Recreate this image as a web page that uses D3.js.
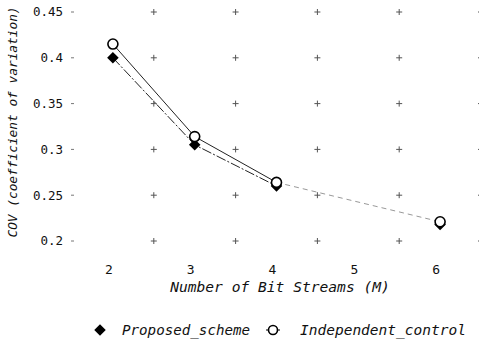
<!DOCTYPE html>
<html>
<head>
<meta charset="utf-8">
<script src="https://cdn.jsdelivr.net/npm/d3@7"></script>
<style>
  body { margin: 0; background: #fff; }
  text { font-family: "DejaVu Sans Mono", monospace; fill: #111; }
</style>
</head>
<body>
<svg id="chart" width="479" height="340"></svg>
<script>
// data
const streams = [2, 3, 4, 6];
const proposed = [0.400, 0.305, 0.260, 0.218];
const independent = [0.415, 0.314, 0.264, 0.221];
const xTicks = [2, 3, 4, 5, 6];
const yTicks = [0.2, 0.25, 0.3, 0.35, 0.4, 0.45];
const gridX = [2.5, 3.5, 4.5, 5.5, 6.5];
const seriesNames = ["Proposed_scheme", "Independent_control"];

const svg = d3.select("#chart");

const x = d3.scaleLinear().domain([1.5, 6.5]).range([72, 481]);
const y = d3.scaleLinear().domain([0.2, 0.45]).range([241, 12]);

// grid crosses
const g = svg.append("g").attr("class", "grid");
yTicks.forEach(v => {
    gridX.forEach(u => {
        g.append("path")
            .attr("d", `M${x(u) - 3},${y(v)}h6M${x(u)},${y(v) - 3}v6`)
            .attr("stroke", "#555")
            .attr("stroke-width", 1);
    });
    // small tick at the left edge
    g.append("path")
        .attr("d", `M${x(1.5) - 1},${y(v)}h3`)
        .attr("stroke", "#777")
        .attr("stroke-width", 1);
});

// y axis labels
svg.append("g")
    .selectAll("text")
    .data(yTicks)
    .enter()
    .append("text")
    .attr("x", 63)
    .attr("y", d => y(d))
    .attr("dy", "0.35em")
    .attr("text-anchor", "end")
    .style("font-size", "12.5px")
    .text(d => d3.format("")(d));

// x axis labels
svg.append("g")
    .selectAll("text")
    .data(xTicks)
    .enter()
    .append("text")
    .attr("x", d => x(d) - 4)
    .attr("y", 274)
    .attr("text-anchor", "middle")
    .style("font-size", "13px")
    .text(d => d);

// axis titles
svg.append("text")
    .attr("x", 280)
    .attr("y", 292)
    .attr("text-anchor", "middle")
    .style("font-size", "14.6px")
    .style("font-style", "italic")
    .text("Number of Bit Streams (M)");

svg.append("text")
    .attr("transform", "translate(17,122) rotate(-90)")
    .attr("text-anchor", "middle")
    .style("font-size", "12.8px")
    .style("font-style", "italic")
    .text("COV (coefficient of variation)");

// lines: solid part 2..4, faint dashed part 4..6
const line = d3.line().x(d => x(d[0])).y(d => y(d[1]));
const propPts = streams.map((s, i) => [s, proposed[i]]);
const indPts = streams.map((s, i) => [s, independent[i]]);

svg.append("path")
    .datum(propPts.slice(0, 3))
    .attr("d", line)
    .attr("fill", "none")
    .attr("stroke", "#222")
    .attr("stroke-width", 1)
    .style("stroke-dasharray", "10,2,2,2");

svg.append("path")
    .datum(indPts.slice(0, 3))
    .attr("d", line)
    .attr("fill", "none")
    .attr("stroke", "#222")
    .attr("stroke-width", 1);

svg.append("path")
    .datum(indPts.slice(2))
    .attr("d", line)
    .attr("fill", "none")
    .attr("stroke", "#999")
    .attr("stroke-width", 1)
    .style("stroke-dasharray", "5,4");

// markers
const diamond = d3.symbol().type(d3.symbolDiamond2).size(85);
svg.append("g")
    .selectAll("path")
    .data(propPts)
    .enter()
    .append("path")
    .attr("transform", d => `translate(${x(d[0])},${y(d[1])})`)
    .attr("d", diamond)
    .attr("fill", "#000");

svg.append("g")
    .selectAll("circle")
    .data(indPts)
    .enter()
    .append("circle")
    .attr("cx", d => x(d[0]))
    .attr("cy", d => y(d[1]))
    .attr("r", 5)
    .attr("fill", "#fff")
    .attr("stroke", "#000")
    .attr("stroke-width", 1.6);

// legend
const lg = svg.append("g").attr("class", "legend");
lg.append("path")
    .attr("transform", "translate(100,330)")
    .attr("d", diamond)
    .attr("fill", "#000");
lg.append("text")
    .attr("x", 122)
    .attr("y", 335)
    .style("font-size", "14.2px")
    .style("font-style", "italic")
    .text(seriesNames[0]);
lg.append("line")
    .attr("x1", 266).attr("x2", 280)
    .attr("y1", 330).attr("y2", 330)
    .attr("stroke", "#000");
lg.append("circle")
    .attr("cx", 273).attr("cy", 330).attr("r", 4.5)
    .attr("fill", "#fff")
    .attr("stroke", "#000")
    .attr("stroke-width", 1.6);
lg.append("text")
    .attr("x", 300)
    .attr("y", 335)
    .style("font-size", "14.5px")
    .style("font-style", "italic")
    .text(seriesNames[1]);
</script>
</body>
</html>
